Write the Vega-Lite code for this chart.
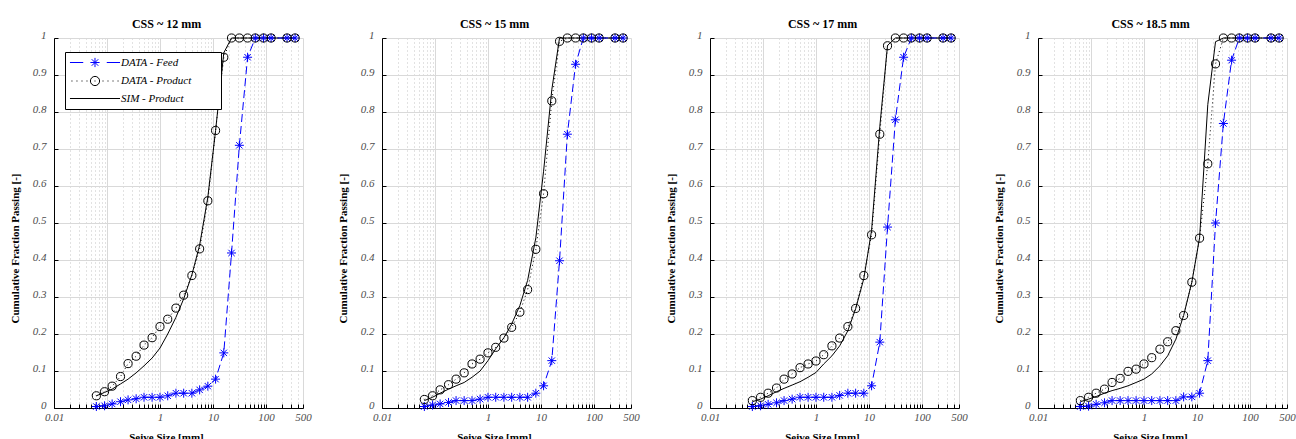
{
"$schema": "https://vega.github.io/schema/vega-lite/v6.json",
"padding": {"left": 9, "top": 18, "right": 0, "bottom": 0},
"bounds": "flush",
"spacing": 79,
"data": {"values": [
{"css":"CSS ~ 12 mm","size":0.063,"DATA - Feed":0.004,"DATA - Product":0.033,"SIM - Product":0.033},
{"css":"CSS ~ 12 mm","size":0.09,"DATA - Feed":0.006,"DATA - Product":0.044,"SIM - Product":0.042},
{"css":"CSS ~ 12 mm","size":0.125,"DATA - Feed":0.011,"DATA - Product":0.059,"SIM - Product":0.051},
{"css":"CSS ~ 12 mm","size":0.18,"DATA - Feed":0.017,"DATA - Product":0.085,"SIM - Product":0.065},
{"css":"CSS ~ 12 mm","size":0.25,"DATA - Feed":0.022,"DATA - Product":0.12,"SIM - Product":0.078},
{"css":"CSS ~ 12 mm","size":0.355,"DATA - Feed":0.025,"DATA - Product":0.14,"SIM - Product":0.095},
{"css":"CSS ~ 12 mm","size":0.5,"DATA - Feed":0.029,"DATA - Product":0.17,"SIM - Product":0.114},
{"css":"CSS ~ 12 mm","size":0.71,"DATA - Feed":0.029,"DATA - Product":0.19,"SIM - Product":0.135},
{"css":"CSS ~ 12 mm","size":1,"DATA - Feed":0.029,"DATA - Product":0.22,"SIM - Product":0.162},
{"css":"CSS ~ 12 mm","size":1.4,"DATA - Feed":0.033,"DATA - Product":0.24,"SIM - Product":0.2},
{"css":"CSS ~ 12 mm","size":2,"DATA - Feed":0.04,"DATA - Product":0.27,"SIM - Product":0.245},
{"css":"CSS ~ 12 mm","size":2.8,"DATA - Feed":0.04,"DATA - Product":0.305,"SIM - Product":0.295},
{"css":"CSS ~ 12 mm","size":4,"DATA - Feed":0.04,"DATA - Product":0.358,"SIM - Product":0.36},
{"css":"CSS ~ 12 mm","size":5.6,"DATA - Feed":0.049,"DATA - Product":0.43,"SIM - Product":0.44},
{"css":"CSS ~ 12 mm","size":8,"DATA - Feed":0.059,"DATA - Product":0.56,"SIM - Product":0.57},
{"css":"CSS ~ 12 mm","size":11.2,"DATA - Feed":0.078,"DATA - Product":0.75,"SIM - Product":0.75},
{"css":"CSS ~ 12 mm","size":16,"DATA - Feed":0.149,"DATA - Product":0.948,"SIM - Product":0.96},
{"css":"CSS ~ 12 mm","size":22.4,"DATA - Feed":0.419,"DATA - Product":1,"SIM - Product":1},
{"css":"CSS ~ 12 mm","size":31.5,"DATA - Feed":0.71,"DATA - Product":1,"SIM - Product":1},
{"css":"CSS ~ 12 mm","size":45,"DATA - Feed":0.948,"DATA - Product":1,"SIM - Product":1},
{"css":"CSS ~ 12 mm","size":63,"DATA - Feed":1,"DATA - Product":1,"SIM - Product":1},
{"css":"CSS ~ 12 mm","size":90,"DATA - Feed":1,"DATA - Product":1,"SIM - Product":1},
{"css":"CSS ~ 12 mm","size":125,"DATA - Feed":1,"DATA - Product":1,"SIM - Product":1},
{"css":"CSS ~ 12 mm","size":250,"DATA - Feed":1,"DATA - Product":1,"SIM - Product":1},
{"css":"CSS ~ 12 mm","size":355,"DATA - Feed":1,"DATA - Product":1,"SIM - Product":1},
{"css":"CSS ~ 15 mm","size":0.063,"DATA - Feed":0.004,"DATA - Product":0.023,"SIM - Product":0.02},
{"css":"CSS ~ 15 mm","size":0.09,"DATA - Feed":0.008,"DATA - Product":0.033,"SIM - Product":0.029},
{"css":"CSS ~ 15 mm","size":0.125,"DATA - Feed":0.011,"DATA - Product":0.049,"SIM - Product":0.04},
{"css":"CSS ~ 15 mm","size":0.18,"DATA - Feed":0.015,"DATA - Product":0.063,"SIM - Product":0.051},
{"css":"CSS ~ 15 mm","size":0.25,"DATA - Feed":0.02,"DATA - Product":0.078,"SIM - Product":0.06},
{"css":"CSS ~ 15 mm","size":0.355,"DATA - Feed":0.02,"DATA - Product":0.095,"SIM - Product":0.069},
{"css":"CSS ~ 15 mm","size":0.5,"DATA - Feed":0.02,"DATA - Product":0.119,"SIM - Product":0.083},
{"css":"CSS ~ 15 mm","size":0.71,"DATA - Feed":0.024,"DATA - Product":0.132,"SIM - Product":0.1},
{"css":"CSS ~ 15 mm","size":1,"DATA - Feed":0.029,"DATA - Product":0.149,"SIM - Product":0.128},
{"css":"CSS ~ 15 mm","size":1.4,"DATA - Feed":0.029,"DATA - Product":0.164,"SIM - Product":0.16},
{"css":"CSS ~ 15 mm","size":2,"DATA - Feed":0.029,"DATA - Product":0.189,"SIM - Product":0.19},
{"css":"CSS ~ 15 mm","size":2.8,"DATA - Feed":0.029,"DATA - Product":0.218,"SIM - Product":0.227},
{"css":"CSS ~ 15 mm","size":4,"DATA - Feed":0.029,"DATA - Product":0.259,"SIM - Product":0.277},
{"css":"CSS ~ 15 mm","size":5.6,"DATA - Feed":0.029,"DATA - Product":0.32,"SIM - Product":0.345},
{"css":"CSS ~ 15 mm","size":8,"DATA - Feed":0.04,"DATA - Product":0.429,"SIM - Product":0.46},
{"css":"CSS ~ 15 mm","size":11.2,"DATA - Feed":0.06,"DATA - Product":0.579,"SIM - Product":0.64},
{"css":"CSS ~ 15 mm","size":16,"DATA - Feed":0.128,"DATA - Product":0.83,"SIM - Product":0.86},
{"css":"CSS ~ 15 mm","size":22.4,"DATA - Feed":0.398,"DATA - Product":0.991,"SIM - Product":1},
{"css":"CSS ~ 15 mm","size":31.5,"DATA - Feed":0.74,"DATA - Product":1,"SIM - Product":1},
{"css":"CSS ~ 15 mm","size":45,"DATA - Feed":0.929,"DATA - Product":1,"SIM - Product":1},
{"css":"CSS ~ 15 mm","size":63,"DATA - Feed":1,"DATA - Product":1,"SIM - Product":1},
{"css":"CSS ~ 15 mm","size":90,"DATA - Feed":1,"DATA - Product":1,"SIM - Product":1},
{"css":"CSS ~ 15 mm","size":125,"DATA - Feed":1,"DATA - Product":1,"SIM - Product":1},
{"css":"CSS ~ 15 mm","size":250,"DATA - Feed":1,"DATA - Product":1,"SIM - Product":1},
{"css":"CSS ~ 15 mm","size":355,"DATA - Feed":1,"DATA - Product":1,"SIM - Product":1},
{"css":"CSS ~ 17 mm","size":0.063,"DATA - Feed":0.004,"DATA - Product":0.02,"SIM - Product":0.017},
{"css":"CSS ~ 17 mm","size":0.09,"DATA - Feed":0.006,"DATA - Product":0.029,"SIM - Product":0.024},
{"css":"CSS ~ 17 mm","size":0.125,"DATA - Feed":0.01,"DATA - Product":0.04,"SIM - Product":0.033},
{"css":"CSS ~ 17 mm","size":0.18,"DATA - Feed":0.014,"DATA - Product":0.054,"SIM - Product":0.044},
{"css":"CSS ~ 17 mm","size":0.25,"DATA - Feed":0.02,"DATA - Product":0.078,"SIM - Product":0.053},
{"css":"CSS ~ 17 mm","size":0.355,"DATA - Feed":0.024,"DATA - Product":0.092,"SIM - Product":0.062},
{"css":"CSS ~ 17 mm","size":0.5,"DATA - Feed":0.029,"DATA - Product":0.109,"SIM - Product":0.071},
{"css":"CSS ~ 17 mm","size":0.71,"DATA - Feed":0.029,"DATA - Product":0.119,"SIM - Product":0.083},
{"css":"CSS ~ 17 mm","size":1,"DATA - Feed":0.029,"DATA - Product":0.127,"SIM - Product":0.096},
{"css":"CSS ~ 17 mm","size":1.4,"DATA - Feed":0.029,"DATA - Product":0.144,"SIM - Product":0.119},
{"css":"CSS ~ 17 mm","size":2,"DATA - Feed":0.029,"DATA - Product":0.168,"SIM - Product":0.141},
{"css":"CSS ~ 17 mm","size":2.8,"DATA - Feed":0.034,"DATA - Product":0.189,"SIM - Product":0.168},
{"css":"CSS ~ 17 mm","size":4,"DATA - Feed":0.04,"DATA - Product":0.22,"SIM - Product":0.209},
{"css":"CSS ~ 17 mm","size":5.6,"DATA - Feed":0.04,"DATA - Product":0.269,"SIM - Product":0.268},
{"css":"CSS ~ 17 mm","size":8,"DATA - Feed":0.04,"DATA - Product":0.358,"SIM - Product":0.35},
{"css":"CSS ~ 17 mm","size":11.2,"DATA - Feed":0.06,"DATA - Product":0.468,"SIM - Product":0.48},
{"css":"CSS ~ 17 mm","size":16,"DATA - Feed":0.178,"DATA - Product":0.74,"SIM - Product":0.76},
{"css":"CSS ~ 17 mm","size":22.4,"DATA - Feed":0.489,"DATA - Product":0.979,"SIM - Product":0.98},
{"css":"CSS ~ 17 mm","size":31.5,"DATA - Feed":0.779,"DATA - Product":1,"SIM - Product":1},
{"css":"CSS ~ 17 mm","size":45,"DATA - Feed":0.948,"DATA - Product":1,"SIM - Product":1},
{"css":"CSS ~ 17 mm","size":63,"DATA - Feed":1,"DATA - Product":1,"SIM - Product":1},
{"css":"CSS ~ 17 mm","size":90,"DATA - Feed":1,"DATA - Product":1,"SIM - Product":1},
{"css":"CSS ~ 17 mm","size":125,"DATA - Feed":1,"DATA - Product":1,"SIM - Product":1},
{"css":"CSS ~ 17 mm","size":250,"DATA - Feed":1,"DATA - Product":1,"SIM - Product":1},
{"css":"CSS ~ 17 mm","size":355,"DATA - Feed":1,"DATA - Product":1,"SIM - Product":1},
{"css":"CSS ~ 18.5 mm","size":0.063,"DATA - Feed":0.004,"DATA - Product":0.02,"SIM - Product":0.017},
{"css":"CSS ~ 18.5 mm","size":0.09,"DATA - Feed":0.005,"DATA - Product":0.029,"SIM - Product":0.024},
{"css":"CSS ~ 18.5 mm","size":0.125,"DATA - Feed":0.01,"DATA - Product":0.04,"SIM - Product":0.031},
{"css":"CSS ~ 18.5 mm","size":0.18,"DATA - Feed":0.014,"DATA - Product":0.051,"SIM - Product":0.04},
{"css":"CSS ~ 18.5 mm","size":0.25,"DATA - Feed":0.02,"DATA - Product":0.069,"SIM - Product":0.047},
{"css":"CSS ~ 18.5 mm","size":0.355,"DATA - Feed":0.02,"DATA - Product":0.08,"SIM - Product":0.053},
{"css":"CSS ~ 18.5 mm","size":0.5,"DATA - Feed":0.02,"DATA - Product":0.099,"SIM - Product":0.06},
{"css":"CSS ~ 18.5 mm","size":0.71,"DATA - Feed":0.02,"DATA - Product":0.105,"SIM - Product":0.069},
{"css":"CSS ~ 18.5 mm","size":1,"DATA - Feed":0.02,"DATA - Product":0.119,"SIM - Product":0.078},
{"css":"CSS ~ 18.5 mm","size":1.4,"DATA - Feed":0.02,"DATA - Product":0.136,"SIM - Product":0.092},
{"css":"CSS ~ 18.5 mm","size":2,"DATA - Feed":0.02,"DATA - Product":0.159,"SIM - Product":0.114},
{"css":"CSS ~ 18.5 mm","size":2.8,"DATA - Feed":0.02,"DATA - Product":0.179,"SIM - Product":0.141},
{"css":"CSS ~ 18.5 mm","size":4,"DATA - Feed":0.02,"DATA - Product":0.209,"SIM - Product":0.186},
{"css":"CSS ~ 18.5 mm","size":5.6,"DATA - Feed":0.03,"DATA - Product":0.25,"SIM - Product":0.25},
{"css":"CSS ~ 18.5 mm","size":8,"DATA - Feed":0.03,"DATA - Product":0.34,"SIM - Product":0.34},
{"css":"CSS ~ 18.5 mm","size":11.2,"DATA - Feed":0.04,"DATA - Product":0.459,"SIM - Product":0.46},
{"css":"CSS ~ 18.5 mm","size":16,"DATA - Feed":0.128,"DATA - Product":0.66,"SIM - Product":0.82},
{"css":"CSS ~ 18.5 mm","size":22.4,"DATA - Feed":0.5,"DATA - Product":0.93,"SIM - Product":0.99},
{"css":"CSS ~ 18.5 mm","size":31.5,"DATA - Feed":0.769,"DATA - Product":1,"SIM - Product":1},
{"css":"CSS ~ 18.5 mm","size":45,"DATA - Feed":0.94,"DATA - Product":1,"SIM - Product":1},
{"css":"CSS ~ 18.5 mm","size":63,"DATA - Feed":1,"DATA - Product":1,"SIM - Product":1},
{"css":"CSS ~ 18.5 mm","size":90,"DATA - Feed":1,"DATA - Product":1,"SIM - Product":1},
{"css":"CSS ~ 18.5 mm","size":125,"DATA - Feed":1,"DATA - Product":1,"SIM - Product":1},
{"css":"CSS ~ 18.5 mm","size":250,"DATA - Feed":1,"DATA - Product":1,"SIM - Product":1},
{"css":"CSS ~ 18.5 mm","size":355,"DATA - Feed":1,"DATA - Product":1,"SIM - Product":1}
]},
"config": {
  "font": "Liberation Serif",
  "view": {"stroke": null},
  "title": {"font": "Liberation Serif", "fontSize": 12, "fontWeight": "bold", "color": "#000", "offset": -2, "anchor": "middle", "frame": "group"},
  "axis": {"labelFont": "Liberation Serif", "labelFontStyle": "italic", "labelFontSize": 11, "labelColor": "#4d4d4d", "titleFont": "Liberation Serif", "titleFontWeight": "bold", "titleFontSize": 11, "titleColor": "#000", "domainColor": "#000", "domainWidth": 1, "tickColor": "#000", "tickSize": -4, "gridColor": "#d9d9d9", "gridWidth": 1, "labelFlush": false, "labelOverlap": false},
  "axisX": {"labelPadding": 7, "titlePadding": 9},
  "axisY": {"labelPadding": 12, "labelBaseline": "alphabetic", "titlePadding": 11.5}
},
"hconcat": [
{
  "width": 249, "height": 370,
  "title": {"text": "CSS ~ 12 mm", "dx": -12},
  "transform": [{"filter": "datum.css == 'CSS ~ 12 mm'"}, {"fold": ["DATA - Feed", "DATA - Product", "SIM - Product"], "as": ["series", "value"]}],
  "encoding": {
    "x": {"field": "size", "type": "quantitative", "scale": {"type": "log", "domain": [0.01, 500], "nice": false},
      "axis": {"title": "Seive Size [mm]", "titleX": 112,
        "values": [0.01,0.02,0.03,0.04,0.05,0.06,0.07,0.08,0.09,0.1,0.2,0.3,0.4,0.5,0.6,0.7,0.8,0.9,1,2,3,4,5,6,7,8,9,10,20,30,40,50,60,70,80,90,100,200,300,400,500],
        "labelExpr": "indexof([0.01,1,10,100,500], datum.value) >= 0 ? format(datum.value, '~g') : ''",
        "gridDash": {"condition": {"test": "indexof([0.01,0.1,1,10,100,500], datum.value) >= 0", "value": []}, "value": [1, 3]},
        "gridColor": {"condition": {"test": "indexof([0.01,0.1,1,10,100,500], datum.value) >= 0", "value": "#d9d9d9"}, "value": "#c4c4c4"}}},
    "y": {"field": "value", "type": "quantitative", "scale": {"domain": [0, 1], "nice": false},
      "axis": {"title": "Cumulative Fraction Passing [-]", "titleY": 210, "values": [0,0.1,0.2,0.3,0.4,0.5,0.6,0.7,0.8,0.9,1], "format": "~g"}}
  },
  "layer": [
    {"transform": [{"filter": "datum.series == 'SIM - Product'"}], "mark": {"type": "line", "color": "#000", "strokeWidth": 1}},
    {"transform": [{"filter": "datum.series == 'DATA - Product'"}], "mark": {"type": "line", "color": "#000", "strokeWidth": 1, "strokeDash": [1, 3]}},
    {"transform": [{"filter": "datum.series == 'DATA - Feed'"}], "mark": {"type": "line", "color": "#0000ff", "strokeWidth": 1, "strokeDash": [8, 4]}},
    {"transform": [{"filter": "datum.series == 'DATA - Feed'"}], "mark": {"type": "point", "shape": "M-1,0L1,0M0,-1L0,1M-0.71,-0.71L0.71,0.71M-0.71,0.71L0.71,-0.71", "size": 81, "filled": false, "color": "#0000ff", "strokeWidth": 1, "opacity": 1}},
    {"transform": [{"filter": "datum.series == 'DATA - Product'"}], "mark": {"type": "point", "shape": "circle", "size": 66, "filled": false, "color": "#000", "strokeWidth": 1, "opacity": 1}},
    {"transform": [{"filter": "datum.size == 0.063"}], "mark": {"type": "point", "filled": false, "opacity": 0, "strokeWidth": 1},
      "encoding": {
        "color": {"field": "series", "type": "nominal", "scale": {"domain": ["DATA - Feed", "DATA - Product", "SIM - Product"], "range": ["#0000ff", "#000000", "#000000"]},
          "legend": {"title": null, "orient": "none", "legendX": 11, "legendY": 14, "padding": 5, "strokeColor": "#000", "fillColor": "#fff", "cornerRadius": 0, "labelFont": "Liberation Serif", "labelFontStyle": "italic", "labelFontSize": 11, "labelColor": "#000", "labelLimit": 400, "labelOffset": 40, "rowPadding": 3.5, "symbolSize": 85, "symbolStrokeWidth": 1, "symbolOpacity": 1, "symbolFillColor": "transparent", "labelExpr": "datum.label + '\u2800\u2800\u2800'"}},
        "shape": {"field": "series", "type": "nominal", "scale": {"domain": ["DATA - Feed", "DATA - Product", "SIM - Product"], "range": ["M-1.2,0L1.68,0M6.78,0L9.66,0M3.23,0L5.23,0M4.23,-1L4.23,1M3.52,-0.71L4.94,0.71M3.52,0.71L4.94,-0.71", "M-0.88,0L-0.66,0M0.21,0L0.43,0M1.3,0L1.52,0M2.38,0L2.6,0M4.12,0L4.34,0M5.86,0L6.08,0M6.94,0L7.16,0M8.03,0L8.25,0M9.12,0L9.34,0M5.23,0A1,1,0,1,1,3.23,0A1,1,0,1,1,5.23,0", "M-1.2,0L9.66,0"]}}
      }}
  ]
},
{
  "width": 249, "height": 370,
  "title": {"text": "CSS ~ 15 mm", "dx": -12},
  "transform": [{"filter": "datum.css == 'CSS ~ 15 mm'"}, {"fold": ["DATA - Feed", "DATA - Product", "SIM - Product"], "as": ["series", "value"]}],
  "encoding": {
    "x": {"field": "size", "type": "quantitative", "scale": {"type": "log", "domain": [0.01, 500], "nice": false},
      "axis": {"title": "Seive Size [mm]", "titleX": 112,
        "values": [0.01,0.02,0.03,0.04,0.05,0.06,0.07,0.08,0.09,0.1,0.2,0.3,0.4,0.5,0.6,0.7,0.8,0.9,1,2,3,4,5,6,7,8,9,10,20,30,40,50,60,70,80,90,100,200,300,400,500],
        "labelExpr": "indexof([0.01,1,10,100,500], datum.value) >= 0 ? format(datum.value, '~g') : ''",
        "gridDash": {"condition": {"test": "indexof([0.01,0.1,1,10,100,500], datum.value) >= 0", "value": []}, "value": [1, 3]},
        "gridColor": {"condition": {"test": "indexof([0.01,0.1,1,10,100,500], datum.value) >= 0", "value": "#d9d9d9"}, "value": "#c4c4c4"}}},
    "y": {"field": "value", "type": "quantitative", "scale": {"domain": [0, 1], "nice": false},
      "axis": {"title": "Cumulative Fraction Passing [-]", "titleY": 210, "values": [0,0.1,0.2,0.3,0.4,0.5,0.6,0.7,0.8,0.9,1], "format": "~g"}}
  },
  "layer": [
    {"transform": [{"filter": "datum.series == 'SIM - Product'"}], "mark": {"type": "line", "color": "#000", "strokeWidth": 1}},
    {"transform": [{"filter": "datum.series == 'DATA - Product'"}], "mark": {"type": "line", "color": "#000", "strokeWidth": 1, "strokeDash": [1, 3]}},
    {"transform": [{"filter": "datum.series == 'DATA - Feed'"}], "mark": {"type": "line", "color": "#0000ff", "strokeWidth": 1, "strokeDash": [8, 4]}},
    {"transform": [{"filter": "datum.series == 'DATA - Feed'"}], "mark": {"type": "point", "shape": "M-1,0L1,0M0,-1L0,1M-0.71,-0.71L0.71,0.71M-0.71,0.71L0.71,-0.71", "size": 81, "filled": false, "color": "#0000ff", "strokeWidth": 1, "opacity": 1}},
    {"transform": [{"filter": "datum.series == 'DATA - Product'"}], "mark": {"type": "point", "shape": "circle", "size": 66, "filled": false, "color": "#000", "strokeWidth": 1, "opacity": 1}},
    {"transform": [{"filter": "datum.size == 0.063"}], "mark": {"type": "point", "filled": false, "opacity": 0, "strokeWidth": 1},
      "encoding": {
        "color": {"field": "series", "type": "nominal", "scale": {"domain": ["DATA - Feed", "DATA - Product", "SIM - Product"], "range": ["#0000ff", "#000000", "#000000"]},
          "legend": {"title": null, "orient": "none", "legendX": 11, "legendY": 14, "padding": 5, "strokeColor": "#000", "fillColor": "#fff", "cornerRadius": 0, "labelFont": "Liberation Serif", "labelFontStyle": "italic", "labelFontSize": 11, "labelColor": "#000", "labelLimit": 400, "labelOffset": 40, "rowPadding": 3.5, "symbolSize": 85, "symbolStrokeWidth": 1, "symbolOpacity": 1, "symbolFillColor": "transparent", "labelExpr": "datum.label + '\u2800\u2800\u2800'"}},
        "shape": {"field": "series", "type": "nominal", "scale": {"domain": ["DATA - Feed", "DATA - Product", "SIM - Product"], "range": ["M-1.2,0L1.68,0M6.78,0L9.66,0M3.23,0L5.23,0M4.23,-1L4.23,1M3.52,-0.71L4.94,0.71M3.52,0.71L4.94,-0.71", "M-0.88,0L-0.66,0M0.21,0L0.43,0M1.3,0L1.52,0M2.38,0L2.6,0M4.12,0L4.34,0M5.86,0L6.08,0M6.94,0L7.16,0M8.03,0L8.25,0M9.12,0L9.34,0M5.23,0A1,1,0,1,1,3.23,0A1,1,0,1,1,5.23,0", "M-1.2,0L9.66,0"]}}
      }}
  ]
},
{
  "width": 249, "height": 370,
  "title": {"text": "CSS ~ 17 mm", "dx": -12},
  "transform": [{"filter": "datum.css == 'CSS ~ 17 mm'"}, {"fold": ["DATA - Feed", "DATA - Product", "SIM - Product"], "as": ["series", "value"]}],
  "encoding": {
    "x": {"field": "size", "type": "quantitative", "scale": {"type": "log", "domain": [0.01, 500], "nice": false},
      "axis": {"title": "Seive Size [mm]", "titleX": 112,
        "values": [0.01,0.02,0.03,0.04,0.05,0.06,0.07,0.08,0.09,0.1,0.2,0.3,0.4,0.5,0.6,0.7,0.8,0.9,1,2,3,4,5,6,7,8,9,10,20,30,40,50,60,70,80,90,100,200,300,400,500],
        "labelExpr": "indexof([0.01,1,10,100,500], datum.value) >= 0 ? format(datum.value, '~g') : ''",
        "gridDash": {"condition": {"test": "indexof([0.01,0.1,1,10,100,500], datum.value) >= 0", "value": []}, "value": [1, 3]},
        "gridColor": {"condition": {"test": "indexof([0.01,0.1,1,10,100,500], datum.value) >= 0", "value": "#d9d9d9"}, "value": "#c4c4c4"}}},
    "y": {"field": "value", "type": "quantitative", "scale": {"domain": [0, 1], "nice": false},
      "axis": {"title": "Cumulative Fraction Passing [-]", "titleY": 210, "values": [0,0.1,0.2,0.3,0.4,0.5,0.6,0.7,0.8,0.9,1], "format": "~g"}}
  },
  "layer": [
    {"transform": [{"filter": "datum.series == 'SIM - Product'"}], "mark": {"type": "line", "color": "#000", "strokeWidth": 1}},
    {"transform": [{"filter": "datum.series == 'DATA - Product'"}], "mark": {"type": "line", "color": "#000", "strokeWidth": 1, "strokeDash": [1, 3]}},
    {"transform": [{"filter": "datum.series == 'DATA - Feed'"}], "mark": {"type": "line", "color": "#0000ff", "strokeWidth": 1, "strokeDash": [8, 4]}},
    {"transform": [{"filter": "datum.series == 'DATA - Feed'"}], "mark": {"type": "point", "shape": "M-1,0L1,0M0,-1L0,1M-0.71,-0.71L0.71,0.71M-0.71,0.71L0.71,-0.71", "size": 81, "filled": false, "color": "#0000ff", "strokeWidth": 1, "opacity": 1}},
    {"transform": [{"filter": "datum.series == 'DATA - Product'"}], "mark": {"type": "point", "shape": "circle", "size": 66, "filled": false, "color": "#000", "strokeWidth": 1, "opacity": 1}},
    {"transform": [{"filter": "datum.size == 0.063"}], "mark": {"type": "point", "filled": false, "opacity": 0, "strokeWidth": 1},
      "encoding": {
        "color": {"field": "series", "type": "nominal", "scale": {"domain": ["DATA - Feed", "DATA - Product", "SIM - Product"], "range": ["#0000ff", "#000000", "#000000"]},
          "legend": {"title": null, "orient": "none", "legendX": 11, "legendY": 14, "padding": 5, "strokeColor": "#000", "fillColor": "#fff", "cornerRadius": 0, "labelFont": "Liberation Serif", "labelFontStyle": "italic", "labelFontSize": 11, "labelColor": "#000", "labelLimit": 400, "labelOffset": 40, "rowPadding": 3.5, "symbolSize": 85, "symbolStrokeWidth": 1, "symbolOpacity": 1, "symbolFillColor": "transparent", "labelExpr": "datum.label + '\u2800\u2800\u2800'"}},
        "shape": {"field": "series", "type": "nominal", "scale": {"domain": ["DATA - Feed", "DATA - Product", "SIM - Product"], "range": ["M-1.2,0L1.68,0M6.78,0L9.66,0M3.23,0L5.23,0M4.23,-1L4.23,1M3.52,-0.71L4.94,0.71M3.52,0.71L4.94,-0.71", "M-0.88,0L-0.66,0M0.21,0L0.43,0M1.3,0L1.52,0M2.38,0L2.6,0M4.12,0L4.34,0M5.86,0L6.08,0M6.94,0L7.16,0M8.03,0L8.25,0M9.12,0L9.34,0M5.23,0A1,1,0,1,1,3.23,0A1,1,0,1,1,5.23,0", "M-1.2,0L9.66,0"]}}
      }}
  ]
},
{
  "width": 249, "height": 370,
  "title": {"text": "CSS ~ 18.5 mm", "dx": -12},
  "transform": [{"filter": "datum.css == 'CSS ~ 18.5 mm'"}, {"fold": ["DATA - Feed", "DATA - Product", "SIM - Product"], "as": ["series", "value"]}],
  "encoding": {
    "x": {"field": "size", "type": "quantitative", "scale": {"type": "log", "domain": [0.01, 500], "nice": false},
      "axis": {"title": "Seive Size [mm]", "titleX": 112,
        "values": [0.01,0.02,0.03,0.04,0.05,0.06,0.07,0.08,0.09,0.1,0.2,0.3,0.4,0.5,0.6,0.7,0.8,0.9,1,2,3,4,5,6,7,8,9,10,20,30,40,50,60,70,80,90,100,200,300,400,500],
        "labelExpr": "indexof([0.01,1,10,100,500], datum.value) >= 0 ? format(datum.value, '~g') : ''",
        "gridDash": {"condition": {"test": "indexof([0.01,0.1,1,10,100,500], datum.value) >= 0", "value": []}, "value": [1, 3]},
        "gridColor": {"condition": {"test": "indexof([0.01,0.1,1,10,100,500], datum.value) >= 0", "value": "#d9d9d9"}, "value": "#c4c4c4"}}},
    "y": {"field": "value", "type": "quantitative", "scale": {"domain": [0, 1], "nice": false},
      "axis": {"title": "Cumulative Fraction Passing [-]", "titleY": 210, "values": [0,0.1,0.2,0.3,0.4,0.5,0.6,0.7,0.8,0.9,1], "format": "~g"}}
  },
  "layer": [
    {"transform": [{"filter": "datum.series == 'SIM - Product'"}], "mark": {"type": "line", "color": "#000", "strokeWidth": 1}},
    {"transform": [{"filter": "datum.series == 'DATA - Product'"}], "mark": {"type": "line", "color": "#000", "strokeWidth": 1, "strokeDash": [1, 3]}},
    {"transform": [{"filter": "datum.series == 'DATA - Feed'"}], "mark": {"type": "line", "color": "#0000ff", "strokeWidth": 1, "strokeDash": [8, 4]}},
    {"transform": [{"filter": "datum.series == 'DATA - Feed'"}], "mark": {"type": "point", "shape": "M-1,0L1,0M0,-1L0,1M-0.71,-0.71L0.71,0.71M-0.71,0.71L0.71,-0.71", "size": 81, "filled": false, "color": "#0000ff", "strokeWidth": 1, "opacity": 1}},
    {"transform": [{"filter": "datum.series == 'DATA - Product'"}], "mark": {"type": "point", "shape": "circle", "size": 66, "filled": false, "color": "#000", "strokeWidth": 1, "opacity": 1}},
    {"transform": [{"filter": "datum.size == 0.063"}], "mark": {"type": "point", "filled": false, "opacity": 0, "strokeWidth": 1},
      "encoding": {
        "color": {"field": "series", "type": "nominal", "scale": {"domain": ["DATA - Feed", "DATA - Product", "SIM - Product"], "range": ["#0000ff", "#000000", "#000000"]},
          "legend": {"title": null, "orient": "none", "legendX": 11, "legendY": 14, "padding": 5, "strokeColor": "#000", "fillColor": "#fff", "cornerRadius": 0, "labelFont": "Liberation Serif", "labelFontStyle": "italic", "labelFontSize": 11, "labelColor": "#000", "labelLimit": 400, "labelOffset": 40, "rowPadding": 3.5, "symbolSize": 85, "symbolStrokeWidth": 1, "symbolOpacity": 1, "symbolFillColor": "transparent", "labelExpr": "datum.label + '\u2800\u2800\u2800'"}},
        "shape": {"field": "series", "type": "nominal", "scale": {"domain": ["DATA - Feed", "DATA - Product", "SIM - Product"], "range": ["M-1.2,0L1.68,0M6.78,0L9.66,0M3.23,0L5.23,0M4.23,-1L4.23,1M3.52,-0.71L4.94,0.71M3.52,0.71L4.94,-0.71", "M-0.88,0L-0.66,0M0.21,0L0.43,0M1.3,0L1.52,0M2.38,0L2.6,0M4.12,0L4.34,0M5.86,0L6.08,0M6.94,0L7.16,0M8.03,0L8.25,0M9.12,0L9.34,0M5.23,0A1,1,0,1,1,3.23,0A1,1,0,1,1,5.23,0", "M-1.2,0L9.66,0"]}}
      }}
  ]
}
]
}
